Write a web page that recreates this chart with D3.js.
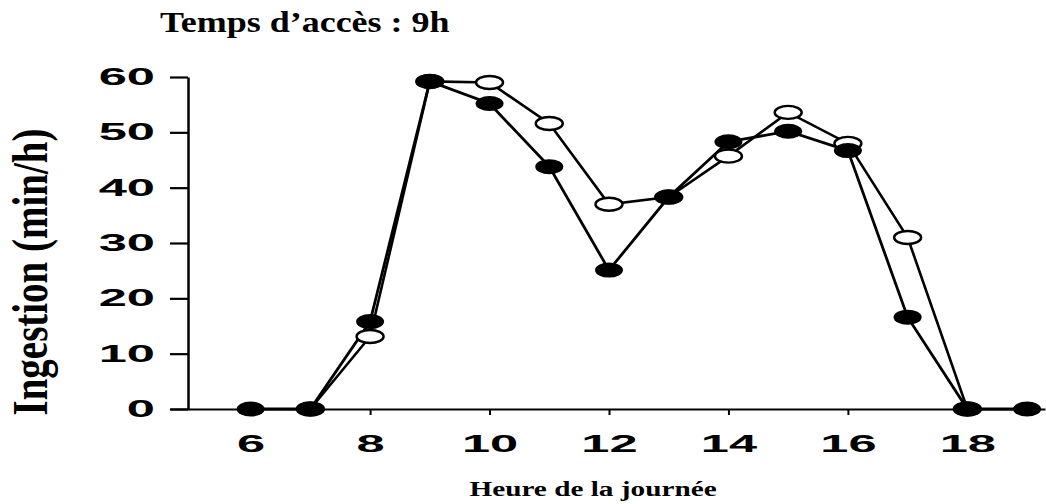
<!DOCTYPE html>
<html>
<head>
<meta charset="utf-8">
<script src="https://cdn.jsdelivr.net/npm/d3@7"></script>
<style>
  body { margin: 0; background: #fff; }
  .serif { font-family: 'Liberation Serif', 'Times New Roman', serif; font-weight: bold; }
  .axis text { font-family: 'Liberation Sans', Arial, sans-serif; font-weight: bold; fill: #000; }
</style>
</head>
<body>
<script>
// hours on the x axis
var hoursFilled = [6, 7, 8, 9, 10, 11, 12, 13, 14, 15, 16, 17, 18, 19]
var valuesFilled = [0, 0, 15.8, 59.2, 55.2, 43.8, 25.1, 38.3, 48.3, 50.2, 46.7, 16.6, 0, 0]
var hoursOpen = [7, 8, 9, 10, 11, 12, 13, 14, 15, 16, 17, 18]
var valuesOpen = [0, 13.1, 59.2, 59.0, 51.6, 37.0, 38.3, 45.7, 53.6, 48.0, 31.0, 0]
var xTicks = [6, 8, 10, 12, 14, 16, 18]
var yTicks = [0, 10, 20, 30, 40, 50, 60]

var filled = hoursFilled.map(function (h, i) { return { h: h, v: valuesFilled[i] } })
var open = hoursOpen.map(function (h, i) { return { h: h, v: valuesOpen[i] } })

var W = 1046, H = 504
var svg = d3.select('body').append('svg')
    .attr('width', W)
    .attr('height', H)

// Scales
var xScale = d3.scaleLinear().domain([4.65, 19.3]).range([170, 1045])
var yScale = d3.scaleLinear().domain([0, 60]).range([409, 77])
var yAxisX = 188

// X-axis
var xAxis = d3.axisBottom(xScale).tickValues(xTicks).tickSize(6).tickSizeOuter(0)
var gx = svg.append('g')
    .attr('class', 'axis')
    .attr('transform', 'translate(0,' + yScale(0) + ')')
    .call(xAxis)
gx.select('.domain').attr('stroke', '#000').attr('stroke-width', 2.2)
gx.selectAll('.tick line').attr('stroke', '#000').attr('stroke-width', 2)
gx.selectAll('.tick text')
    .attr('y', 26.5)
    .attr('font-size', 23)
    .attr('transform', 'scale(2.2,1)')

// Y-axis
var yAxis = d3.axisLeft(yScale).tickValues(yTicks).tickSize(18).tickSizeOuter(0)
var gy = svg.append('g')
    .attr('class', 'axis')
    .attr('transform', 'translate(' + yAxisX + ',0)')
    .call(yAxis)
gy.select('.domain').attr('stroke', '#000').attr('stroke-width', 2.5)
gy.selectAll('.tick line').attr('stroke', '#000').attr('stroke-width', 2.2)
gy.selectAll('.tick text')
    .attr('x', -33 / 2.2)
    .attr('font-size', 23)
    .attr('transform', 'scale(2.2,1)')

// Lines
var line = d3.line()
    .x(function (d) { return xScale(d.h) })
    .y(function (d) { return yScale(d.v) })

svg.append('path')
    .datum(open)
    .attr('d', line)
    .attr('fill', 'none')
    .attr('stroke', '#000')
    .attr('stroke-width', 2.6)
svg.append('path')
    .datum(filled)
    .attr('d', line)
    .attr('fill', 'none')
    .attr('stroke', '#000')
    .attr('stroke-width', 2.8)

// Markers (open under, filled on top)
svg.selectAll('.open')
    .data(open)
    .enter()
  .append('ellipse')
    .attr('class', 'open')
    .attr('cx', function (d) { return xScale(d.h) })
    .attr('cy', function (d) { return yScale(d.v) })
    .attr('rx', 13.5)
    .attr('ry', 6.5)
    .attr('fill', '#fff')
    .attr('stroke', '#000')
    .attr('stroke-width', 2.4)
svg.selectAll('.filled')
    .data(filled)
    .enter()
  .append('ellipse')
    .attr('class', 'filled')
    .attr('cx', function (d) { return xScale(d.h) })
    .attr('cy', function (d) { return yScale(d.v) })
    .attr('rx', 14)
    .attr('ry', 7.5)
    .attr('fill', '#000')

// Title
svg.append('text')
    .attr('class', 'serif')
    .attr('transform', 'translate(160,32) scale(1.2,1)')
    .attr('font-size', 30)
    .text('Temps d\u2019accès : 9h')

// Y-axis label
svg.append('text')
    .attr('class', 'serif')
    .attr('transform', 'translate(47,272) rotate(-90) scale(1,1.3)')
    .attr('text-anchor', 'middle')
    .attr('font-size', 39)
    .text('Ingestion (min/h)')

// X-axis label
svg.append('text')
    .attr('class', 'serif')
    .attr('transform', 'translate(593,496) scale(1.33,1)')
    .attr('text-anchor', 'middle')
    .attr('font-size', 22)
    .text('Heure de la journée')
</script>
</body>
</html>
